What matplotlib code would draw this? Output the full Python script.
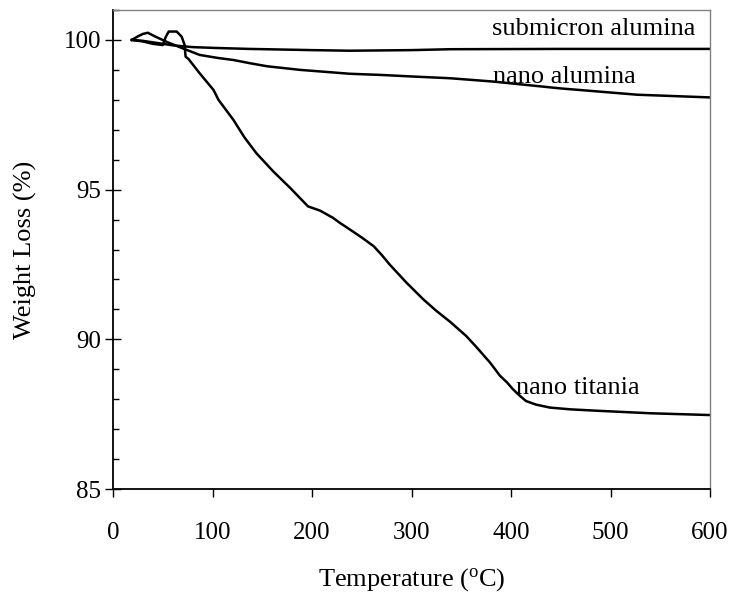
import matplotlib
matplotlib.use("Agg")
import matplotlib.pyplot as plt
from matplotlib.ticker import MultipleLocator

plt.rcParams['font.family'] = ['Liberation Serif', 'DejaVu Serif']
plt.rcParams['mathtext.fontset'] = 'custom'
plt.rcParams['mathtext.rm'] = 'Liberation Serif'

# --- data ---
sub_T = [19, 30, 40, 60, 80, 105, 137, 200, 238, 300, 339, 450, 600]
sub_W = [100.0, 99.97, 99.92, 99.82, 99.76, 99.73, 99.70, 99.66, 99.64, 99.66, 99.69, 99.70, 99.70]

nal_T = [19, 25, 30, 35, 42, 55, 70, 87, 105, 121, 138, 155, 188, 238, 270, 300, 339, 382, 450,
         527, 600]
nal_W = [100.0, 100.12, 100.2, 100.24, 100.12, 99.92, 99.72, 99.5, 99.4, 99.33, 99.22, 99.12, 99.0,
         98.87, 98.83, 98.78, 98.72, 98.61, 98.38, 98.17, 98.08]

tit_T = [19, 30, 40, 50, 53, 56, 64, 69, 72, 72.5, 73, 76, 87, 101, 106, 121, 132, 144, 161, 178,
         196, 208, 221, 228, 238, 250, 262, 270, 278, 295, 312, 325, 339, 355, 365, 379, 389, 396,
         402, 409, 415, 425, 439, 460, 489, 540, 600]
tit_W = [100.0, 99.95, 99.87, 99.83, 100.1, 100.28, 100.28, 100.11, 99.83, 99.6, 99.44, 99.36,
         98.89, 98.33, 98.0, 97.33, 96.75, 96.22, 95.61, 95.06, 94.44, 94.3, 94.06, 93.89, 93.67,
         93.4, 93.11, 92.82, 92.5, 91.89, 91.33, 90.95, 90.58, 90.11, 89.75, 89.22, 88.78, 88.56,
         88.33, 88.11, 87.94, 87.82, 87.72, 87.66, 87.61, 87.53, 87.47]

labels = ["submicron alumina", "nano alumina", "nano titania"]
label_pos = [(381, 100.17), (382, 98.57), (405, 88.17)]

x_ticks = [0, 100, 200, 300, 400, 500, 600]
y_ticks = [85, 90, 95, 100]

fig = plt.figure(figsize=(7.33, 5.99), dpi=100)
ax = fig.add_axes([113/733, 1 - 489/599, (710 - 113)/733, (489 - 10)/599])

for T, W in [(sub_T, sub_W), (nal_T, nal_W), (tit_T, tit_W)]:
    ax.plot(T, W, color='black', lw=1.8, solid_joinstyle='round')

for txt, (x, y) in zip(labels, label_pos):
    ax.text(x, y, txt, fontsize=19, ha='left', va='baseline')

ax.set_xlim(0, 600)
ax.set_ylim(85, 101)
ax.set_xticks(x_ticks)
ax.set_yticks(y_ticks)
ax.yaxis.set_minor_locator(MultipleLocator(1))

ax.tick_params(axis='x', which='major', direction='out', length=6, width=1, labelsize=18, pad=18)
ax.tick_params(axis='y', which='major', direction='inout', length=11, width=1, labelsize=18, pad=3)
ax.tick_params(axis='y', which='minor', direction='in', length=4.5, width=1)
ax.tick_params(top=False, right=False, which='both')

for s in ['left', 'bottom']:
    ax.spines[s].set_color('black')
    ax.spines[s].set_linewidth(1.3)
for s in ['top', 'right']:
    ax.spines[s].set_color('#808080')
    ax.spines[s].set_linewidth(1.0)

ax.set_xlabel(r"Temperature ($\mathregular{^o}$C)", fontsize=19, labelpad=16)
ax.set_ylabel("Weight Loss (%)", fontsize=19, labelpad=19)

fig.savefig("out.png", dpi=100)
